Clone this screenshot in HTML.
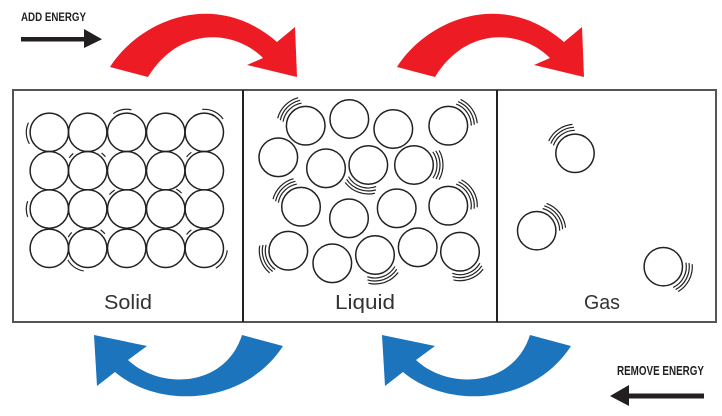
<!DOCTYPE html>
<html>
<head>
<meta charset="utf-8">
<style>
  html, body { margin: 0; padding: 0; background: #ffffff; }
  body { width: 722px; height: 416px; overflow: hidden; }
  svg { display: block; }
  .c { fill: none; stroke: #222; stroke-width: 1.5; }
  .a { fill: none; stroke: #222; stroke-width: 1.2; }
  .lbl { font-family: "Liberation Sans", "DejaVu Sans", sans-serif; font-size: 20px; fill: #333; }
  .cap { font-family: "Liberation Sans Narrow", "Liberation Sans", sans-serif; font-weight: bold; fill: #231f20; }
</style>
</head>
<body>
<svg width="722" height="416" viewBox="0 0 722 416" xmlns="http://www.w3.org/2000/svg">
  <rect x="0" y="0" width="722" height="416" fill="#ffffff"/>

  <!-- ADD ENERGY -->
  <text class="cap" x="21" y="21" font-size="11.5" textLength="65" lengthAdjust="spacingAndGlyphs">ADD ENERGY</text>
  <rect x="21" y="37" width="65" height="4.5" fill="#231f20"/>
  <polygon points="84,29 102,39.2 84,48" fill="#231f20"/>

  <!-- Red arrows -->
  <path id="red" d="M110,67 C140,20 215,-12 277,42 L295,27 L297,77 L247,65 L263,58 C235,30 180,25 148,77 Z" fill="#ED1C24"/>
  <path d="M110,67 C140,20 215,-12 277,42 L295,27 L297,77 L247,65 L263,58 C235,30 180,25 148,77 Z" fill="#ED1C24" transform="translate(287,0)"/>

  <!-- Box -->
  <rect x="13" y="90" width="703" height="232" fill="none" stroke="#555" stroke-width="2"/>
  <line x1="243" y1="90" x2="243" y2="322" stroke="#222" stroke-width="2"/>
  <line x1="497" y1="90" x2="497" y2="322" stroke="#222" stroke-width="2"/>

  <!-- Solid circles -->
  <g class="c">
    <circle cx="49.3" cy="132.3" r="19.2"/><circle cx="87.7" cy="132.3" r="19.2"/><circle cx="126.7" cy="132.3" r="19.2"/><circle cx="165.7" cy="132.3" r="19.2"/><circle cx="204.3" cy="132.3" r="19.2"/>
    <circle cx="49.3" cy="170.7" r="19.2"/><circle cx="87.7" cy="170.7" r="19.2"/><circle cx="126.7" cy="170.7" r="19.2"/><circle cx="165.7" cy="170.7" r="19.2"/><circle cx="204.3" cy="170.7" r="19.2"/>
    <circle cx="49.3" cy="209" r="19.2"/><circle cx="87.7" cy="209" r="19.2"/><circle cx="126.7" cy="209" r="19.2"/><circle cx="165.7" cy="209" r="19.2"/><circle cx="204.3" cy="209" r="19.2"/>
    <circle cx="49.3" cy="248.3" r="19.2"/><circle cx="87.7" cy="248.3" r="19.2"/><circle cx="126.7" cy="248.3" r="19.2"/><circle cx="165.7" cy="248.3" r="19.2"/><circle cx="204.3" cy="248.3" r="19.2"/>
  </g>
  <!-- Solid vibration arcs -->
  <g class="a">
    <circle cx="49.3" cy="132.3" r="23" pathLength="360" stroke-dasharray="55 400" transform="rotate(150 49.3 132.3)"/>
    <circle cx="126.7" cy="132.3" r="23" pathLength="360" stroke-dasharray="48 400" transform="rotate(-126 126.7 132.3)"/>
    <circle cx="204.3" cy="132.3" r="23" pathLength="360" stroke-dasharray="60 400" transform="rotate(-95 204.3 132.3)"/>
    <circle cx="87.7" cy="170.7" r="22.5" pathLength="360" stroke-dasharray="15 400" transform="rotate(-145 87.7 170.7)"/>
    <circle cx="87.7" cy="170.7" r="22.5" pathLength="360" stroke-dasharray="14 400" transform="rotate(-52 87.7 170.7)"/>
    <circle cx="204.3" cy="170.7" r="22.5" pathLength="360" stroke-dasharray="17 400" transform="rotate(-142 204.3 170.7)"/>
    <circle cx="49.3" cy="209" r="23" pathLength="360" stroke-dasharray="40 400" transform="rotate(160 49.3 209)"/>
    <circle cx="126.7" cy="209" r="22.5" pathLength="360" stroke-dasharray="18 400" transform="rotate(-140 126.7 209)"/>
    <circle cx="165.7" cy="209" r="22.5" pathLength="360" stroke-dasharray="17 400" transform="rotate(-62 165.7 209)"/>
    <circle cx="87.7" cy="248.3" r="22.5" pathLength="360" stroke-dasharray="15 400" transform="rotate(-150 87.7 248.3)"/>
    <circle cx="87.7" cy="248.3" r="22.5" pathLength="360" stroke-dasharray="15 400" transform="rotate(-55 87.7 248.3)"/>
    <circle cx="87.7" cy="248.3" r="23" pathLength="360" stroke-dasharray="50 400" transform="rotate(100 87.7 248.3)"/>
    <circle cx="204.3" cy="248.3" r="22.5" pathLength="360" stroke-dasharray="17 400" transform="rotate(-142 204.3 248.3)"/>
    <circle cx="204.3" cy="248.3" r="23" pathLength="360" stroke-dasharray="55 400" transform="rotate(5 204.3 248.3)"/>
  </g>

  <!-- Liquid circles -->
  <g class="c">
    <circle cx="305.7" cy="125.7" r="19.3"/>
    <circle cx="349.3" cy="119" r="19.3"/>
    <circle cx="393.3" cy="129" r="19.3"/>
    <circle cx="448.3" cy="125.7" r="19.3"/>
    <circle cx="278.3" cy="157.3" r="19.3"/>
    <circle cx="326" cy="168.3" r="19.3"/>
    <circle cx="368.3" cy="165" r="19.3"/>
    <circle cx="414" cy="165" r="19.3"/>
    <circle cx="301" cy="206.7" r="19.3"/>
    <circle cx="349" cy="218.3" r="19.3"/>
    <circle cx="396.7" cy="208.3" r="19.3"/>
    <circle cx="448.3" cy="205.7" r="19.3"/>
    <circle cx="288.3" cy="250.7" r="19.3"/>
    <circle cx="332.3" cy="263.3" r="19.3"/>
    <circle cx="375" cy="255" r="19.3"/>
    <circle cx="417.7" cy="247.3" r="19.3"/>
    <circle cx="460" cy="251.7" r="19.3"/>
  </g>
  <!-- Liquid arcs (3 each) -->
  <g class="a">
    <!-- c1 upper-left -->
    <circle cx="305.7" cy="125.7" r="23" pathLength="360" stroke-dasharray="70 400" transform="rotate(-170 305.7 125.7)"/>
    <circle cx="305.7" cy="125.7" r="26" pathLength="360" stroke-dasharray="66 400" transform="rotate(-168 305.7 125.7)"/>
    <circle cx="305.7" cy="125.7" r="29" pathLength="360" stroke-dasharray="60 400" transform="rotate(-165 305.7 125.7)"/>
    <!-- c4 upper-right -->
    <circle cx="448.3" cy="125.7" r="23" pathLength="360" stroke-dasharray="70 400" transform="rotate(-70 448.3 125.7)"/>
    <circle cx="448.3" cy="125.7" r="26" pathLength="360" stroke-dasharray="66 400" transform="rotate(-68 448.3 125.7)"/>
    <circle cx="448.3" cy="125.7" r="29" pathLength="360" stroke-dasharray="60 400" transform="rotate(-65 448.3 125.7)"/>
    <!-- c7 bottom -->
    <circle cx="368.3" cy="165" r="23" pathLength="360" stroke-dasharray="80 400" transform="rotate(70 368.3 165)"/>
    <circle cx="368.3" cy="165" r="26" pathLength="360" stroke-dasharray="74 400" transform="rotate(73 368.3 165)"/>
    <circle cx="368.3" cy="165" r="29" pathLength="360" stroke-dasharray="66 400" transform="rotate(77 368.3 165)"/>
    <!-- c8 right -->
    <circle cx="414" cy="165" r="23" pathLength="360" stroke-dasharray="70 400" transform="rotate(-35 414 165)"/>
    <circle cx="414" cy="165" r="26" pathLength="360" stroke-dasharray="66 400" transform="rotate(-33 414 165)"/>
    <circle cx="414" cy="165" r="29" pathLength="360" stroke-dasharray="60 400" transform="rotate(-30 414 165)"/>
    <!-- c9 upper-left -->
    <circle cx="301" cy="206.7" r="23" pathLength="360" stroke-dasharray="70 400" transform="rotate(-170 301 206.7)"/>
    <circle cx="301" cy="206.7" r="26" pathLength="360" stroke-dasharray="66 400" transform="rotate(-168 301 206.7)"/>
    <circle cx="301" cy="206.7" r="29" pathLength="360" stroke-dasharray="60 400" transform="rotate(-165 301 206.7)"/>
    <!-- c12 upper-right -->
    <circle cx="448.3" cy="205.7" r="23" pathLength="360" stroke-dasharray="80 400" transform="rotate(-70 448.3 205.7)"/>
    <circle cx="448.3" cy="205.7" r="26" pathLength="360" stroke-dasharray="74 400" transform="rotate(-67 448.3 205.7)"/>
    <circle cx="448.3" cy="205.7" r="29" pathLength="360" stroke-dasharray="66 400" transform="rotate(-63 448.3 205.7)"/>
    <!-- c13 left -->
    <circle cx="288.3" cy="250.7" r="23" pathLength="360" stroke-dasharray="70 400" transform="rotate(125 288.3 250.7)"/>
    <circle cx="288.3" cy="250.7" r="26" pathLength="360" stroke-dasharray="66 400" transform="rotate(127 288.3 250.7)"/>
    <circle cx="288.3" cy="250.7" r="29" pathLength="360" stroke-dasharray="60 400" transform="rotate(130 288.3 250.7)"/>
    <!-- c15 bottom -->
    <circle cx="375" cy="255" r="23" pathLength="360" stroke-dasharray="80 400" transform="rotate(30 375 255)"/>
    <circle cx="375" cy="255" r="26" pathLength="360" stroke-dasharray="74 400" transform="rotate(33 375 255)"/>
    <circle cx="375" cy="255" r="29" pathLength="360" stroke-dasharray="66 400" transform="rotate(37 375 255)"/>
    <!-- c17 bottom -->
    <circle cx="460" cy="251.7" r="23" pathLength="360" stroke-dasharray="80 400" transform="rotate(30 460 251.7)"/>
    <circle cx="460" cy="251.7" r="26" pathLength="360" stroke-dasharray="74 400" transform="rotate(33 460 251.7)"/>
    <circle cx="460" cy="251.7" r="29" pathLength="360" stroke-dasharray="66 400" transform="rotate(37 460 251.7)"/>
  </g>

  <!-- Gas circles -->
  <g class="c">
    <circle cx="575" cy="153.3" r="19.2"/>
    <circle cx="536.7" cy="230.7" r="19.2"/>
    <circle cx="663.3" cy="266.7" r="19.2"/>
  </g>
  <g class="a">
    <circle cx="575" cy="153.3" r="23" pathLength="360" stroke-dasharray="70 400" transform="rotate(-160 575 153.3)"/>
    <circle cx="575" cy="153.3" r="26" pathLength="360" stroke-dasharray="66 400" transform="rotate(-158 575 153.3)"/>
    <circle cx="575" cy="153.3" r="29" pathLength="360" stroke-dasharray="60 400" transform="rotate(-155 575 153.3)"/>
    <circle cx="536.7" cy="230.7" r="23" pathLength="360" stroke-dasharray="75 400" transform="rotate(-75 536.7 230.7)"/>
    <circle cx="536.7" cy="230.7" r="26" pathLength="360" stroke-dasharray="70 400" transform="rotate(-73 536.7 230.7)"/>
    <circle cx="536.7" cy="230.7" r="29" pathLength="360" stroke-dasharray="64 400" transform="rotate(-70 536.7 230.7)"/>
    <circle cx="663.3" cy="266.7" r="23" pathLength="360" stroke-dasharray="75 400" transform="rotate(-10 663.3 266.7)"/>
    <circle cx="663.3" cy="266.7" r="26" pathLength="360" stroke-dasharray="70 400" transform="rotate(-8 663.3 266.7)"/>
    <circle cx="663.3" cy="266.7" r="29" pathLength="360" stroke-dasharray="64 400" transform="rotate(-5 663.3 266.7)"/>
  </g>

  <!-- Labels -->
  <text class="lbl" x="104" y="309" textLength="48" lengthAdjust="spacingAndGlyphs">Solid</text>
  <text class="lbl" x="335" y="309" textLength="60" lengthAdjust="spacingAndGlyphs">Liquid</text>
  <text class="lbl" x="584" y="309" textLength="36" lengthAdjust="spacingAndGlyphs">Gas</text>

  <!-- Blue arrows -->
  <path d="M94,335 L147,346 L128,360 C160,390 225,388 242,335 L283,346 C245,405 160,410 115,372 L97,386 Z" fill="#1C75BC"/>
  <path d="M94,335 L147,346 L128,360 C160,390 225,388 242,335 L283,346 C245,405 160,410 115,372 L97,386 Z" fill="#1C75BC" transform="translate(288,0)"/>

  <!-- REMOVE ENERGY -->
  <text class="cap" x="617" y="375" font-size="12.5" textLength="87" lengthAdjust="spacingAndGlyphs">REMOVE ENERGY</text>
  <rect x="628" y="393.5" width="76" height="5" fill="#231f20"/>
  <polygon points="629,385 610,396 629,406" fill="#231f20"/>
</svg>
</body>
</html>
